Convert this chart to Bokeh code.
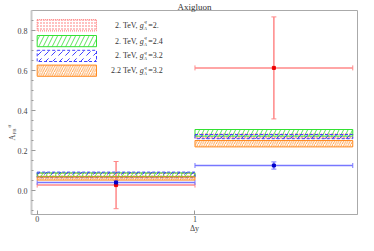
import math
from bokeh.plotting import figure
from bokeh.models import (ColumnDataSource, Whisker, TeeHead, BoxAnnotation, Label, Title,
                          FixedTicker, PrintfTickFormatter)
from bokeh.embed import file_html
from bokeh.resources import INLINE

# ---------------- data ----------------
bin_lo = [0.0, 1.0]
bin_hi = [1.0, 2.0]
bin_mid = [0.5, 1.5]

# measurements (red) and SM-like prediction (blue)
red_val = [0.027, 0.613]
red_err = [0.118, 0.255]
blue_val = [0.040, 0.125]
blue_err = [0.010, 0.018]

# axigluon model bands (low / high edges per bin)
band_red_lo = [0.066, 0.262]
band_red_hi = [0.086, 0.282]
band_green_lo = [0.070, 0.272]
band_green_hi = [0.088, 0.305]
band_blue_lo = [0.064, 0.259]
band_blue_hi = [0.092, 0.280]
band_orange_lo = [0.052, 0.218]
band_orange_hi = [0.068, 0.250]

legend_mass = ["2. TeV,", "2. TeV,", "2. TeV,", "2.2 TeV,"]
legend_coupling = ["=2.", "=2.4", "=3.2", "=3.2"]

y_ticks = [0.0, 0.2, 0.4, 0.6, 0.8]
y_minor = [-0.1, -0.05, 0.05, 0.1, 0.15, 0.25, 0.3, 0.35, 0.45, 0.5, 0.55,
           0.65, 0.7, 0.75, 0.85]
x_ticks = [0, 1]

# ---------------- styles ----------------
FONT = "Liberation Serif"
RED = "#ff6464"
GREEN = "#33e033"
BLUE = "#4040ff"
ORANGE = "#ff8c24"

styles = [
    dict(color=RED, dash="1 1", hatch="dot", scale=3.0, weight=1.0),
    dict(color=GREEN, dash="solid", hatch="/", scale=9.0, weight=0.8),
    dict(color=BLUE, dash="3 2", hatch="right_diagonal_dash", scale=7.0, weight=1.0),
    dict(color=ORANGE, dash="solid", hatch="/", scale=4.5, weight=0.8),
]
bands = [(band_red_lo, band_red_hi), (band_green_lo, band_green_hi),
         (band_blue_lo, band_blue_hi), (band_orange_lo, band_orange_hi)]

p = figure(width=358, height=235, x_range=(-0.036, 2.03), y_range=(-0.12, 0.90),
           output_backend="svg", toolbar_location=None,
           min_border_left=31, min_border_right=1, min_border_top=0, min_border_bottom=0)

p.title.text = "Axigluon"
p.title.align = "center"
p.title.text_font = FONT
p.title.text_font_size = "9px"
p.title.text_font_style = "normal"
p.title.text_color = "#333333"
p.title.standoff = -2

p.grid.visible = False
p.outline_line_color = "#aaaaaa"
p.outline_line_width = 1
p.background_fill_color = "white"
p.border_fill_color = "white"

for ax in (p.xaxis[0], p.yaxis[0]):
    ax.major_tick_in = 4
    ax.major_tick_out = 0
    ax.minor_tick_in = 2
    ax.minor_tick_out = 0
    ax.major_tick_line_color = "#999999"
    ax.minor_tick_line_color = "#999999"
    ax.major_label_text_font = FONT
    ax.major_label_text_font_size = "8px"
    ax.major_label_text_color = "#444444"

p.yaxis.ticker = FixedTicker(ticks=y_ticks, minor_ticks=y_minor)
p.yaxis.formatter = PrintfTickFormatter(format="%.1f")
p.yaxis.axis_line_color = "#c8c8c8"
p.yaxis.axis_line_width = 2
p.yaxis.major_label_standoff = 4

p.xaxis.ticker = FixedTicker(ticks=x_ticks, minor_ticks=[])
p.xaxis.axis_line_color = "#aaaaaa"
p.xaxis.major_label_standoff = 1
p.xaxis.axis_label = "Δy"
p.xaxis.axis_label_text_font = FONT
p.xaxis.axis_label_text_font_size = "8px"
p.xaxis.axis_label_text_font_style = "normal"
p.xaxis.axis_label_text_color = "#444444"
p.xaxis.axis_label_standoff = -1

# ---------------- bands ----------------
for (lo, hi), st in zip(bands, styles):
    p.quad(left=bin_lo, right=bin_hi, bottom=lo, top=hi,
           fill_alpha=0, line_color=st["color"], line_dash=st["dash"], line_width=1,
           hatch_pattern=st["hatch"], hatch_color=st["color"], hatch_scale=st["scale"],
           hatch_weight=st["weight"])

# ---------------- error bars ----------------
def add_points(vals, errs, line_col, pt_col, size):
    src = ColumnDataSource(dict(
        x=bin_mid, y=vals,
        upper=[v + e for v, e in zip(vals, errs)],
        lower=[v - e for v, e in zip(vals, errs)],
        left=bin_lo, right=bin_hi))
    p.add_layout(Whisker(base="x", upper="upper", lower="lower", dimension="height",
                         source=src, line_color=line_col, line_width=1.5,
                         upper_head=TeeHead(size=5, line_color=line_col, line_width=1),
                         lower_head=TeeHead(size=5, line_color=line_col, line_width=1)))
    p.add_layout(Whisker(base="y", upper="right", lower="left", dimension="width",
                         source=src, line_color=line_col, line_width=1.5,
                         upper_head=TeeHead(size=5, line_color=line_col, line_width=1),
                         lower_head=TeeHead(size=5, line_color=line_col, line_width=1)))
    p.scatter("x", "y", source=src, marker="square", size=size, color=pt_col)

add_points(red_val, red_err, "#ff8888", "#ee0000", 3)
add_points(blue_val, blue_err, "#7777ff", "#0000cc", 3)

# ---------------- legend (layout in data space) ----------------
box_left, box_right = 0.0, 0.376
row_top = [0.854, 0.775, 0.701, 0.627]
box_h = 0.056
text_x = 0.65
for i, st in enumerate(styles):
    top = row_top[i]
    bot = top - box_h
    p.add_layout(BoxAnnotation(left=box_left, right=box_right, top=top, bottom=bot,
                               fill_alpha=0, line_color=st["color"], line_alpha=1,
                               line_dash=st["dash"], line_width=1,
                               hatch_pattern=st["hatch"], hatch_color=st["color"],
                               hatch_scale=st["scale"], hatch_weight=st["weight"],
                               hatch_alpha=1))
    yc = (top + bot) / 2
    common = dict(x=text_x, y=yc, text_font=FONT, text_color="#333333",
                  text_baseline="middle")
    p.add_layout(Label(text=legend_mass[i], text_align="right", x_offset=-2,
                       text_font_size="8px", **common))
    p.add_layout(Label(text="g", text_align="left", x_offset=0, text_font_style="italic",
                       text_font_size="8px", **common))
    p.add_layout(Label(text="A", text_align="left", x_offset=4, y_offset=-3,
                       text_font_style="italic", text_font_size="5px", **common))
    p.add_layout(Label(text="q", text_align="left", x_offset=4.5, y_offset=3.5,
                       text_font_style="italic", text_font_size="5px", **common))
    p.add_layout(Label(text=legend_coupling[i], text_align="left", x_offset=8.5,
                       text_font_size="8px", **common))

# ---------------- y-axis label A_FB^tt (side-panel titles) ----------------
def ytitle(text, size, offset, standoff):
    return Title(text=text, align="left", vertical_align="middle", offset=offset,
                 standoff=standoff, text_font=FONT, text_font_size=size,
                 text_font_style="normal", text_color="#444444")

p.add_layout(ytitle("FB", "5px", 80, -9), "left")
p.add_layout(ytitle("A", "8px", 74, -6), "left")
p.add_layout(ytitle("tt\u0304", "5px", 87, -9), "left")

open("out.html", "w").write(file_html(p, INLINE))
